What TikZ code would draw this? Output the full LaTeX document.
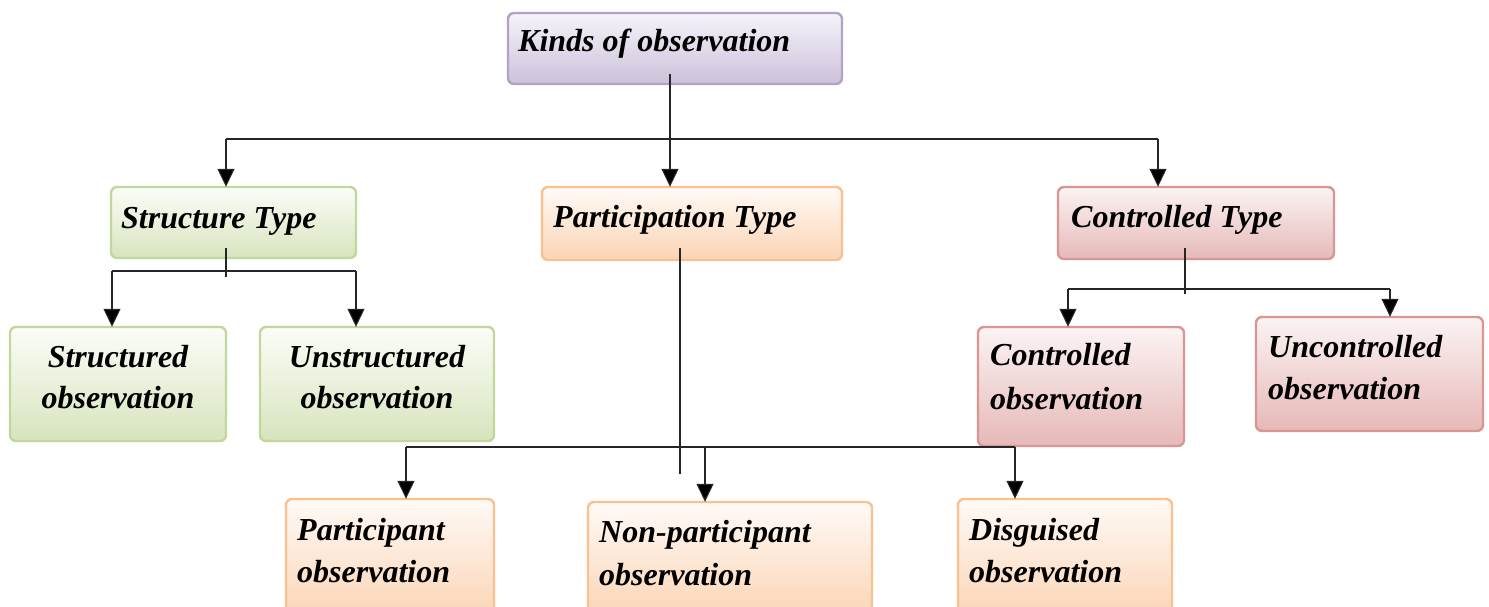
\documentclass[tikz,border=0pt]{standalone}
\usepackage{fontspec}
\setmainfont{Liberation Serif}
\usetikzlibrary{arrows.meta}

\definecolor{purpleedge}{HTML}{B3A2C7}
\definecolor{purpletop}{HTML}{F6F3FA}
\definecolor{purplebot}{HTML}{CCC1DA}
\definecolor{greenedge}{HTML}{C3D69B}
\definecolor{greentop}{HTML}{FBFDF8}
\definecolor{greenbot}{HTML}{D7E4BD}
\definecolor{orangeedge}{HTML}{FAC090}
\definecolor{orangetop}{HTML}{FFFAF6}
\definecolor{orangebot}{HTML}{FBD4B4}
\definecolor{rededge}{HTML}{D99694}
\definecolor{redtop}{HTML}{FBF3F3}
\definecolor{redbot}{HTML}{E6B9B8}

\tikzset{
  box/.style={rectangle, rounded corners=6pt, line width=2.4pt, inner sep=0pt},
  purplebox/.style={box, draw=purpleedge, top color=purpletop, bottom color=purplebot},
  greenbox/.style={box, draw=greenedge, top color=greentop, bottom color=greenbot},
  orangebox/.style={box, draw=orangeedge, top color=orangetop, bottom color=orangebot},
  redbox/.style={box, draw=rededge, top color=redtop, bottom color=redbot},
  lbl/.style={inner sep=0pt, font=\fontsize{32}{41}\selectfont\bfseries\itshape},
  lblw/.style={lbl, anchor=base west},
  lblc/.style={lbl, anchor=base},
  conn/.style={draw=black!85, line width=1.1pt},
  arr/.style={conn, -{Triangle[length=18pt, width=17pt, fill=black]}, shorten >=-1pt},
}

\begin{document}
\begin{tikzpicture}[x=1pt, y=-1pt]
\clip (0,0) rectangle (1489,607);

% boxes
\node[purplebox, minimum width=334pt, minimum height=71pt] (kinds) at (675,48.5) {};
\node[greenbox,  minimum width=245pt, minimum height=71pt] (struct) at (233.5,222.5) {};
\node[orangebox, minimum width=300pt, minimum height=73pt] (partic) at (692,223.5) {};
\node[redbox,    minimum width=276pt, minimum height=72pt] (ctrl) at (1196,223) {};

\node[greenbox, minimum width=216pt, minimum height=114pt] (structured) at (118,384) {};
\node[greenbox, minimum width=234pt, minimum height=114pt] (unstructured) at (377,384) {};
\node[redbox, minimum width=206pt, minimum height=119pt] (controlled) at (1081,386.5) {};
\node[redbox, minimum width=227pt, minimum height=114pt] (uncontrolled) at (1369.5,374) {};

\node[orangebox, minimum width=208pt, minimum height=121pt] (participant) at (390,559.5) {};
\node[orangebox, minimum width=284pt, minimum height=118pt] (nonpart) at (730,561) {};
\node[orangebox, minimum width=214pt, minimum height=121pt] (disguised) at (1065,559.5) {};

% labels
\node[lblw] (kinds-t) at (518,52) {Kinds of observation};
\node[lblw] (struct-t) at (121,228) {Structure Type};
\node[lblw] (partic-t) at (553,227) {Participation Type};
\node[lblw] (ctrl-t) at (1071,227) {Controlled Type};

\node[lblc] (structured-t1) at (118,367) {Structured};
\node[lblc] (structured-t2) at (118,408) {observation};
\node[lblc] (unstructured-t1) at (377,367) {Unstructured};
\node[lblc] (unstructured-t2) at (377,408) {observation};

\node[lblw] (controlled-t1) at (990,365) {Controlled};
\node[lblw] (controlled-t2) at (990,409) {observation};
\node[lblw] (uncontrolled-t1) at (1268,357) {Uncontrolled};
\node[lblw] (uncontrolled-t2) at (1268,399) {observation};

\node[lblw] (participant-t1) at (297,540) {Participant};
\node[lblw] (participant-t2) at (297,582) {observation};
\node[lblw] (nonpart-t1) at (599,542) {Non-participant};
\node[lblw] (nonpart-t2) at (599,585) {observation};
\node[lblw] (disguised-t1) at (969,540) {Disguised};
\node[lblw] (disguised-t2) at (969,582) {observation};

% bus points
\coordinate (k-top) at (670,74);
\coordinate (k-end) at (670,150);
\coordinate (k-busl) at (226,139);
\coordinate (k-busm) at (670,139);
\coordinate (k-busr) at (1158,139);

\coordinate (s-top) at (226,248);
\coordinate (s-end) at (226,277);
\coordinate (s-busl) at (112,271);
\coordinate (s-busr) at (356,271);

\coordinate (c-top) at (1185,248);
\coordinate (c-end) at (1185,294);
\coordinate (c-busl) at (1068,289);
\coordinate (c-busr) at (1390,289);

\coordinate (p-top) at (680,248);
\coordinate (p-end) at (680,474);
\coordinate (p-busl) at (406,447);
\coordinate (p-busm) at (705,447);
\coordinate (p-busr) at (1015,447);

% top level
\draw[conn] (k-top) -- (k-end);
\draw[conn] (k-busl) -- (k-busr);
\draw[arr] (k-busl) -- (k-busl |- struct.north);
\draw[arr] (k-busm) -- (k-busm |- partic.north);
\draw[arr] (k-busr) -- (k-busr |- ctrl.north);

% structure branch
\draw[conn] (s-top) -- (s-end);
\draw[conn] (s-busl) -- (s-busr);
\draw[arr] (s-busl) -- (s-busl |- structured.north);
\draw[arr] (s-busr) -- (s-busr |- unstructured.north);

% controlled branch
\draw[conn] (c-top) -- (c-end);
\draw[conn] (c-busl) -- (c-busr);
\draw[arr] (c-busl) -- (c-busl |- controlled.north);
\draw[arr] (c-busr) -- (c-busr |- uncontrolled.north);

% participation branch
\draw[conn] (p-top) -- (p-end);
\draw[conn] (p-busl) -- (p-busr);
\draw[arr] (p-busl) -- (p-busl |- participant.north);
\draw[arr] (p-busm) -- (p-busm |- nonpart.north);
\draw[arr] (p-busr) -- (p-busr |- disguised.north);
\end{tikzpicture}
\end{document}
